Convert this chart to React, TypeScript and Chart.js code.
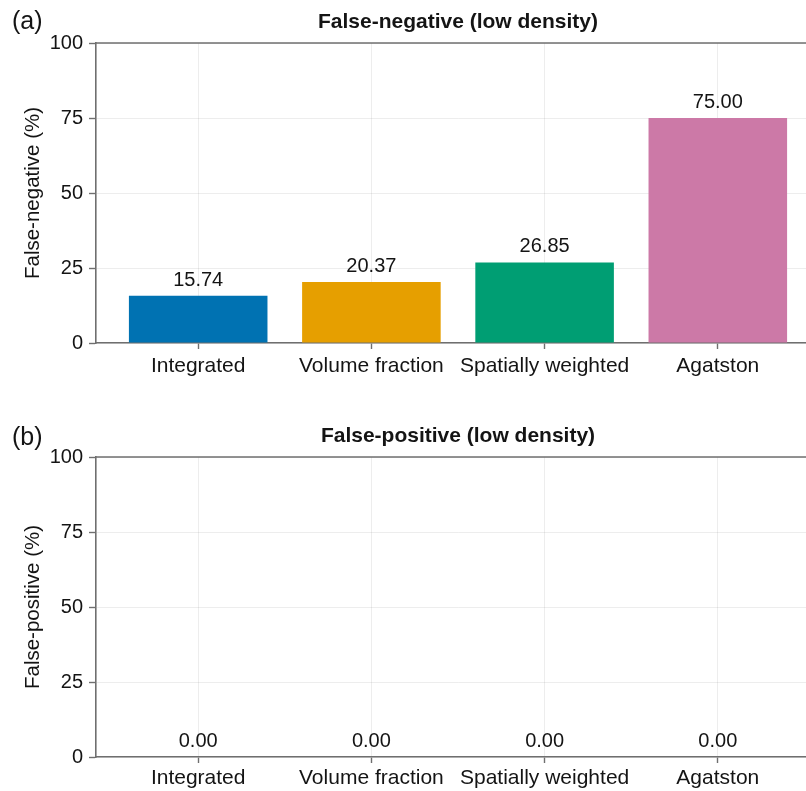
import React, { useEffect, useRef } from "react";
import { Chart, registerables } from "chart.js";

Chart.register(...registerables);

// Detection methods compared in both panels
const categories = ["Integrated", "Volume fraction", "Spatially weighted", "Agatston"];
// Percentages per method
const falseNegativeLow = [15.74, 20.37, 26.85, 75.0];
const falsePositiveLow = [0.0, 0.0, 0.0, 0.0];
// One colour per method
const barColors = ["#0072B2", "#E69F00", "#009E73", "#CC79A7"];
// Y axis ticks (percent)
const yTicks = [0, 25, 50, 75, 100];

const FONT = "'Liberation Sans', Arial, Helvetica, sans-serif";
const AXIS_COLOR = "#6f6f6f";
const GRID_COLOR = "rgba(0,0,0,0.07)";
const TEXT_COLOR = "#141414";
const CANVAS_W = 820;

type PanelProps = {
  panel: string;
  title: string;
  yTitle: string;
  values: number[];
  width: number;
  height: number;
  titleTop: number;
  titleBottom: number;
  xAxisHeight: number;
  xTickPadding: number;
  panelLabelY: number;
  top: number;
};

const decorations = {
  id: "decorations",
  afterDatasetsDraw(chart: any) {
    const { ctx } = chart;
    const meta = chart.getDatasetMeta(0);
    const data = chart.data.datasets[0].data as { x: number; y: number }[];
    ctx.save();
    ctx.fillStyle = TEXT_COLOR;
    ctx.font = `20px ${FONT}`;
    ctx.textAlign = "center";
    ctx.textBaseline = "middle";
    meta.data.forEach((bar: any, i: number) => {
      ctx.fillText(data[i].y.toFixed(2), bar.x, bar.y - 15.5);
    });
    ctx.restore();
  },
  afterDraw(chart: any, _args: any, opts: any) {
    const { ctx, chartArea } = chart;
    ctx.save();
    // top spine
    ctx.strokeStyle = AXIS_COLOR;
    ctx.lineWidth = 1.6;
    ctx.beginPath();
    ctx.moveTo(chartArea.left, chartArea.top);
    ctx.lineTo(chartArea.right, chartArea.top);
    ctx.stroke();
    // panel letter
    ctx.fillStyle = TEXT_COLOR;
    ctx.font = `25px ${FONT}`;
    ctx.textAlign = "left";
    ctx.textBaseline = "middle";
    ctx.fillText(opts.label, 12, opts.labelY);
    ctx.restore();
  },
};

function BarPanel(p: PanelProps) {
  const ref = useRef<HTMLCanvasElement | null>(null);

  useEffect(() => {
    if (!ref.current) return;
    const chart = new Chart(ref.current, {
      type: "bar",
      data: {
        datasets: [
          {
            data: p.values.map((v, i) => ({ x: i, y: v })),
            backgroundColor: barColors,
            borderWidth: 0,
            barPercentage: 0.8,
            categoryPercentage: 1.0,
          },
        ],
      },
      options: {
        responsive: false,
        animation: false,
        devicePixelRatio: 1,
        layout: { padding: 0 },
        plugins: {
          legend: { display: false },
          tooltip: { enabled: false },
          title: {
            display: true,
            text: p.title,
            fullSize: false,
            color: TEXT_COLOR,
            font: { family: FONT, size: 21, weight: "bold" },
            padding: { top: p.titleTop, bottom: p.titleBottom },
          },
          decorations: { label: p.panel, labelY: p.panelLabelY },
        } as any,
        scales: {
          x: {
            type: "linear",
            min: -0.59,
            max: 3.59,
            offset: false,
            afterBuildTicks: (axis: any) => {
              axis.ticks = categories.map((_, i) => ({ value: i }));
            },
            afterFit: (s: any) => {
              s.height = p.xAxisHeight;
            },
            ticks: {
              callback: (v: any) => categories[Number(v)] ?? "",
              color: TEXT_COLOR,
              font: { family: FONT, size: 21 },
              padding: p.xTickPadding,
              maxRotation: 0,
              autoSkip: false,
            },
            grid: {
              offset: false,
              color: GRID_COLOR,
              tickColor: AXIS_COLOR,
              tickLength: 6,
              tickWidth: 1.4,
              drawTicks: true,
            },
            border: { color: AXIS_COLOR, width: 1.6 },
          },
          y: {
            type: "linear",
            min: 0,
            max: 100,
            afterBuildTicks: (axis: any) => {
              axis.ticks = yTicks.map((v) => ({ value: v }));
            },
            afterFit: (s: any) => {
              s.width = 96;
            },
            ticks: {
              color: TEXT_COLOR,
              font: { family: FONT, size: 20 },
              padding: 6,
            },
            grid: {
              color: GRID_COLOR,
              tickColor: AXIS_COLOR,
              tickLength: 7,
              tickWidth: 1.4,
            },
            border: { color: AXIS_COLOR, width: 1.6 },
            title: {
              display: true,
              text: p.yTitle,
              color: TEXT_COLOR,
              font: { family: FONT, size: 20.5 },
              padding: { top: 21.5, bottom: 0 },
            },
          },
        },
      },
      plugins: [decorations as any],
    });
    return () => chart.destroy();
  }, []);

  return (
    <canvas
      ref={ref}
      width={p.width}
      height={p.height}
      style={{ position: "absolute", left: 0, top: p.top, width: p.width, height: p.height }}
    />
  );
}

export default function App() {
  return (
    <div
      style={{
        position: "fixed",
        left: 0,
        top: 0,
        width: 806,
        height: 791,
        overflow: "hidden",
        background: "#ffffff",
      }}
    >
      <BarPanel
        panel="(a)"
        title="False-negative (low density)"
        yTitle="False-negative (%)"
        values={falseNegativeLow}
        width={CANVAS_W}
        height={400}
        titleTop={10}
        titleBottom={7.8}
        xAxisHeight={57}
        xTickPadding={5}
        panelLabelY={22}
        top={0}
      />
      <BarPanel
        panel="(b)"
        title="False-positive (low density)"
        yTitle="False-positive (%)"
        values={falsePositiveLow}
        width={CANVAS_W}
        height={391}
        titleTop={23.4}
        titleBottom={8.4}
        xAxisHeight={34}
        xTickPadding={3}
        panelLabelY={38}
        top={400}
      />
    </div>
  );
}
